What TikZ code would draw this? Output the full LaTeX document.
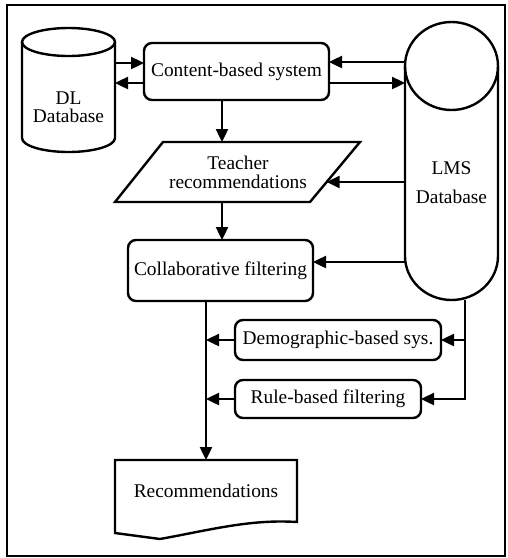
\documentclass[tikz,border=0pt]{standalone}
\usepackage{fontspec}
\setmainfont{Liberation Serif}
\usetikzlibrary{arrows.meta}
\begin{document}
\begin{tikzpicture}[x=0.5pt,y=-0.5pt,
  line width=1.2pt,
  every node/.style={font=\fontsize{9.7}{11}\selectfont, inner sep=0pt, outer sep=0pt},
  rbox/.style={draw, rounded corners=4pt, line width=1.2pt},
  arr/.style={-{Triangle[length=6.5pt,width=6pt]}, line width=1.2pt},
  lbl/.style={anchor=center},
]
\useasboundingbox (0,0) rectangle (508,558);
% frame
\draw (7,5) rectangle (505,556);

% DL database cylinder
\node[minimum width=46.5pt, minimum height=62pt] (dl) at (68.5,90) {};
\draw (68.5,42) ellipse [x radius=23.25pt, y radius=7pt];
\draw (22,42) -- (22,138) arc[start angle=180, end angle=360, x radius=23.25pt, y radius=7pt] -- (115,42);
\node[lbl] (dl1) at (68.5,98) {DL};
\node[lbl] (dl2) at (68.5,116) {Database};

% LMS database cylinder
\node[minimum width=46.5pt, minimum height=139pt] (lms) at (451.5,161) {};
\draw (451.5,66) ellipse [x radius=23.25pt, y radius=22pt];
\draw (405,66) -- (405,256) arc[start angle=180, end angle=360, x radius=23.25pt, y radius=22pt] -- (498,66);
\node[lbl] (lms1) at (451.5,168) {LMS};
\node[lbl] (lms2) at (451.5,197) {Database};
\coordinate (lmsB) at (465,300);

% content-based system
\node[rbox, minimum width=92.5pt, minimum height=28.5pt] (cb) at (236.5,71.5) {Content-based system};

% teacher recommendations parallelogram
\draw (163,142) -- (360,142) -- (310,202) -- (115,202) -- cycle;
\coordinate (trT) at (222,142);
\coordinate (trB) at (222,202);
\coordinate (trR) at (326.7,182);
\node[lbl] (tr1) at (238,163) {Teacher};
\node[lbl] (tr2) at (238,182) {recommendations};

% collaborative filtering
\node[rbox, minimum width=92.5pt, minimum height=30.5pt] (cl) at (220.5,270.5) {Collaborative filtering};

% demographic and rule based
\node[rbox, minimum width=103pt, minimum height=20pt] (dm) at (338,340) {Demographic-based sys.};
\node[rbox, minimum width=93pt, minimum height=19pt] (rb) at (328,399) {Rule-based filtering};

% recommendations document
\draw (115,460) -- (297,460) -- (297,522) .. controls (250,519) and (210,530) .. (160,539) -- (115,533) -- cycle;
\coordinate (recT) at (206,460);
\node[lbl] (rec) at (206,491) {Recommendations};

% connectors
\draw[arr] (dl.east |- 0,63) -- (cb.west |- 0,63);
\draw[arr] (cb.west |- 0,83) -- (dl.east |- 0,83);
\draw[arr] (lms.west |- 0,62) -- (cb.east |- 0,62);
\draw[arr] (cb.east |- 0,83) -- (lms.west |- 0,83);
\draw[arr] (cb.south -| trT) -- (trT);
\draw[arr] (lms.west |- trR) -- (trR);
\draw[arr] (trB) -- (cl.north -| trB);
\draw[arr] (lms.west |- 0,262) -- (cl.east |- 0,262);
\draw[arr] (cl.south -| recT) -- (recT);
\draw[arr] (dm.west) -- (dm.west -| recT);
\draw[arr] (rb.west) -- (rb.west -| recT);
\draw[arr] (lmsB) |- (rb.east);
\draw[arr] (lmsB |- dm.east) -- (dm.east);
\end{tikzpicture}
\end{document}
